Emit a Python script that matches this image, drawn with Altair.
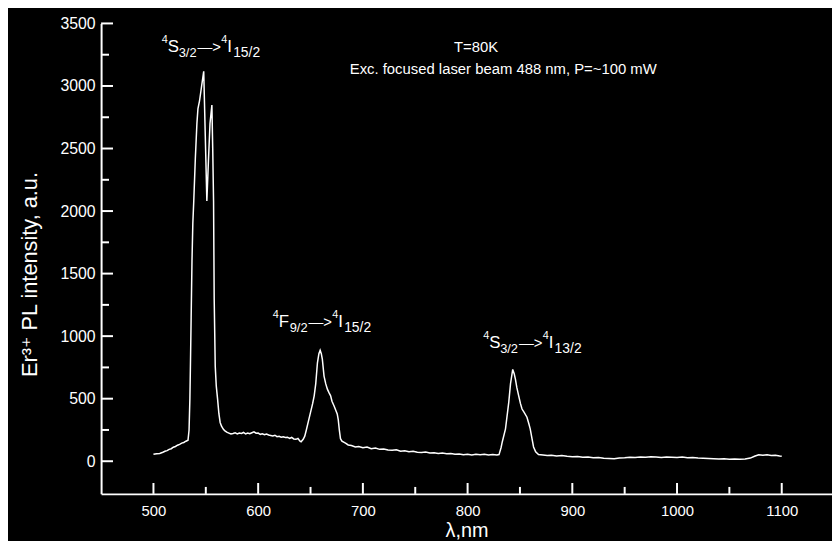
"""Er3+ photoluminescence spectrum at 80 K"""

import altair as alt
import pandas as pd

# spectrum (nm, a.u.)
WAVELENGTH = [
    500, 503, 506, 509, 511, 513, 515, 517, 519, 521, 523, 525, 527, 529, 531, 533,
    534, 534.8, 535.3, 536, 536.8, 537.6, 538.5, 540, 541.5, 542.5, 544, 546, 548,
    549.5, 551, 552.5, 554, 555.8, 556.6, 557.4, 558, 559, 560, 561.2, 562.5, 563.7,
    565, 566.8, 568, 570, 572, 574, 576, 578, 580, 582, 584, 586, 588, 590, 592, 594,
    596, 598, 600, 602, 604, 606, 608, 610, 612, 614, 616, 618, 620, 622, 624, 626,
    628, 630, 632, 634, 636, 638, 640, 641, 643, 644.5, 646, 648, 650, 652, 653.5,
    655, 656.6, 658, 659.2, 660.3, 661.3, 662.9, 664.5, 666.1, 667.5, 669.2, 670.5,
    672.4, 674, 675.5, 676.5, 677.5, 678.6, 680, 683.4, 686, 689, 692.8, 696, 700,
    704, 708, 712, 716, 720, 724, 728, 732, 736, 740, 744, 748, 752, 756, 760, 764,
    768, 772, 776, 780, 784, 788, 792, 796, 800, 804, 808, 812, 816, 820, 824, 828,
    830, 832, 833.1, 836.2, 839.3, 841, 843.1, 844.5, 845.7, 847, 848.8, 850.5, 852,
    854, 856.7, 858.5, 859.8, 861.5, 863, 865, 867.7, 872, 876, 880, 885, 890, 895,
    900, 905, 910, 915, 920, 925, 930, 935, 940, 945, 950, 955, 960, 965, 970, 975,
    980, 985, 990, 995, 1000, 1005, 1010, 1015, 1020, 1025, 1030, 1035, 1040, 1045,
    1050, 1055, 1060, 1065, 1070, 1074, 1078, 1082, 1086, 1090, 1094, 1098, 1100,
]
INTENSITY = [
    55, 60, 62, 72, 80, 85, 95, 100, 112, 118, 128, 135, 145, 150, 160, 168,
    250, 500, 760, 1150, 1600, 1900, 2080, 2420, 2700, 2820, 2880, 3000, 3117,
    2600, 2080, 2400, 2700, 2847, 2500, 2080, 1300, 760, 600, 500, 380, 310,
    280, 255, 245, 232, 225, 218, 222, 228, 218, 225, 222, 230, 218, 226, 220, 228,
    235, 224, 225, 215, 220, 212, 218, 210, 206, 202, 208, 196, 200, 192, 195, 190,
    192, 182, 190, 178, 175, 182, 160, 155, 175, 200, 250, 320, 390, 460, 523,
    620, 787, 860, 887, 860, 814, 681, 620, 576, 550, 523, 480,
    444, 410, 378, 330, 250, 180, 160, 145, 130, 126, 114, 118, 108,
    114, 100, 105, 95, 98, 90, 88, 92, 80, 84, 76, 80, 72, 70, 74, 66,
    68, 62, 66, 60, 62, 55, 58, 52, 56, 50, 55, 52, 55, 50, 54, 50,
    53, 110, 154, 259, 470, 620, 734, 700, 655, 590, 523, 460, 417,
    390, 352, 300, 259, 180, 114, 75, 53, 50, 46, 48, 42, 45, 40,
    36, 38, 32, 34, 28, 30, 24, 22, 20, 25, 28, 32, 30, 34, 32, 36,
    34, 30, 34, 32, 30, 33, 28, 30, 26, 24, 22, 20, 18, 20,
    16, 18, 15, 18, 25, 40, 52, 48, 52, 46, 48, 42, 40,
]

Y_MAJOR = [0, 500, 1000, 1500, 2000, 2500, 3000, 3500]
Y_MINOR = [250, 750, 1250, 1750, 2250, 2750, 3250]
X_MAJOR = [500, 600, 700, 800, 900, 1000, 1100]
X_MINOR = [550, 650, 750, 850, 950, 1050]

# transition labels: anchor at left end / baseline of each label
LABEL_NM = [508, 614, 815]
LABEL_VAL = [3269, 1075, 908]
LABEL_STATE = ["S", "F", "S"]
LABEL_STATE_J = ["3/2", "9/2", "3/2"]
LABEL_FINAL_J = ["15/2", "15/2", "13/2"]

NOTE_TEXT = ["T=80K", "Exc. focused laser beam 488 nm, P=~100 mW"]
NOTE_NM = [808, 834]
NOTE_VAL = [3308, 3134]

FONT = "Liberation Sans, Arial, DejaVu Sans"
W, H = 738, 475

x_scale = alt.Scale(domain=[450, 1148], nice=False, zero=False)
y_scale = alt.Scale(domain=[-261, 3500], nice=False, zero=False)

# same axis objects on every layer so Vega-Lite merges them into one
x_axis = alt.Axis(
    values=X_MAJOR, format="d", labelFontSize=15, labelPadding=10,
    titleFontSize=20, titleY=37, titleBaseline="middle",
)
y_axis = alt.Axis(
    values=Y_MAJOR, format="d", labelFontSize=16, labelPadding=6,
    titleFontSize=22, titleX=-72, titleY=253, titleAngle=270,
    titleAlign="center", titleBaseline="middle",
)
X_ENC = alt.X("nm:Q", scale=x_scale, axis=x_axis, title="λ,nm")
Y_ENC = alt.Y("val:Q", scale=y_scale, axis=y_axis, title="Er³⁺ PL intensity, a.u.")

spectrum = pd.DataFrame({"nm": WAVELENGTH, "val": INTENSITY})

line = alt.Chart(spectrum).mark_line(color="white", strokeWidth=1.5).encode(
    x=X_ENC, y=Y_ENC,
)


def y_ticks(values, length):
    return alt.Chart(pd.DataFrame({"val": values})).mark_rule(
        color="white", strokeWidth=2
    ).encode(y=Y_ENC, x=alt.value(0), x2=alt.value(length))


def x_ticks(values, length):
    return alt.Chart(pd.DataFrame({"nm": values})).mark_rule(
        color="white", strokeWidth=2
    ).encode(x=X_ENC, y=alt.value(H), y2=alt.value(H - length))


labels = pd.DataFrame({
    "nm": LABEL_NM, "val": LABEL_VAL,
    "sup": ["4"] * 3, "state": LABEL_STATE, "sj": LABEL_STATE_J,
    "arrow": ["—>"] * 3, "sup2": ["4"] * 3, "fin": ["I"] * 3, "fj": LABEL_FINAL_J,
})

# (field, dx, dy, size) of each piece of a transition label
PIECES = [
    ("sup", 0, -9, 11), ("state", 6, 0, 17), ("sj", 17, 5, 13), ("arrow", 36, 0, 15),
    ("sup2", 60, -9, 11), ("fin", 66, 0, 17), ("fj", 72, 5, 14),
]

label_layers = [
    alt.Chart(labels).mark_text(
        align="left", baseline="alphabetic", dx=dx, dy=dy, fontSize=size,
        color="white", font=FONT,
    ).encode(x=X_ENC, y=Y_ENC, text=f"{field}:N")
    for field, dx, dy, size in PIECES
]

notes = alt.Chart(pd.DataFrame({"nm": NOTE_NM, "val": NOTE_VAL, "t": NOTE_TEXT})).mark_text(
    align="center", baseline="middle", fontSize=15, color="white", font=FONT,
).encode(x=X_ENC, y=Y_ENC, text="t:N")

chart = alt.layer(
    line,
    y_ticks(Y_MAJOR, 12), y_ticks(Y_MINOR, 8),
    x_ticks(X_MAJOR, 11), x_ticks(X_MINOR, 7),
    *label_layers, notes,
).properties(
    width=W, height=H,
    autosize=alt.AutoSizeParams(type="none"),
    padding={"left": 94, "top": 13, "right": 0, "bottom": 45},
).configure(
    background="black",
).configure_view(
    stroke=None,
).configure_axis(
    domainColor="white", domainWidth=2, ticks=False, tickSize=0, grid=False,
    labelColor="white", titleColor="white", labelFont=FONT, titleFont=FONT,
    titleFontWeight="normal",
)

chart.save("out.html", embed_options={"renderer": "svg", "actions": False})
